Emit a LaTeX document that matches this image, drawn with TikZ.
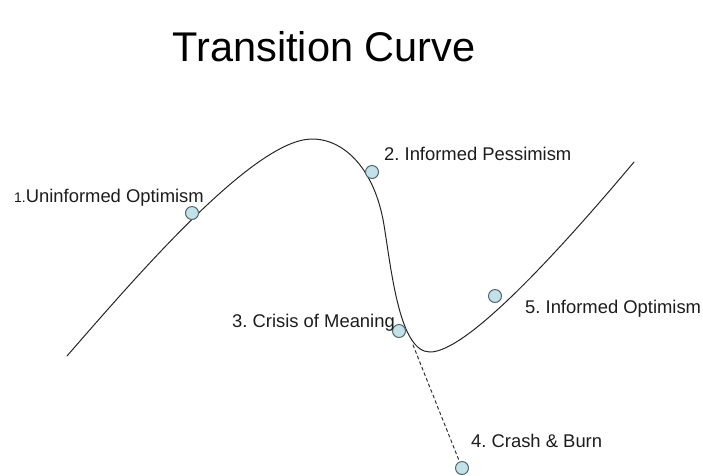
\documentclass[tikz,border=0pt]{standalone}
\usepackage{fontspec}
\setmainfont{Liberation Sans}
\frenchspacing
\definecolor{stagefill}{HTML}{C2E1E8}
\definecolor{stageedge}{HTML}{55666B}
\definecolor{labeltext}{HTML}{1C1C1C}

\begin{document}
\begin{tikzpicture}[
  x=1pt,
  y=-1pt,
  line join=round,
  line cap=round,
  curveline/.style={draw=black!85,line width=1pt},
  dropline/.style={draw=black!80,line width=1pt,dashed,dash pattern=on 3pt off 3pt},
  stage/.style={circle,draw=stageedge,fill=stagefill,line width=1pt,minimum size=13pt,inner sep=0pt},
  stagelabel/.style={anchor=base west,inner sep=0pt,text=labeltext,font=\fontsize{18.4}{21}\selectfont}
]
  \useasboundingbox (0,0) rectangle (703,475);

  % Heading
  \node[anchor=base,inner sep=0pt,text=black,font=\fontsize{41.5}{48}\selectfont] (title) at (324,61) {Transition Curve};

  % The transition curve: rise, peak, steep drop, trough and recovery.
  \draw[curveline] (67,356) .. controls (140,272) and (255,139) .. (312,139)
    .. controls (345,139) and (375,170) .. (384,225)
    .. controls (392,275) and (400,352) .. (430,352)
    .. controls (465,352) and (550,262) .. (634,162);

  % Stages along the curve
  \node[stage] (s1) at (192,213) {};
  \node[stage] (s2) at (372,172) {};
  \node[stage] (s3) at (399,331) {};
  \node[stage] (s4) at (462,468) {};
  \node[stage] (s5) at (495,296) {};

  % Dashed branch down to the crash
  \coordinate (drop) at (413,345);
  \draw[dropline] (drop) -- (s4);

  % Stage labels
  \node[stagelabel] (l1) at (14,202) {{\fontsize{14}{16}\selectfont 1.}Uninformed Optimism};
  \node[stagelabel] (l2) at (384,160) {2. Informed Pessimism};
  \node[stagelabel] (l3) at (232,327) {3. Crisis of Meaning};
  \node[stagelabel] (l4) at (471,447) {4. Crash \& Burn};
  \node[stagelabel] (l5) at (525,313) {5. Informed Optimism};
\end{tikzpicture}
\end{document}
